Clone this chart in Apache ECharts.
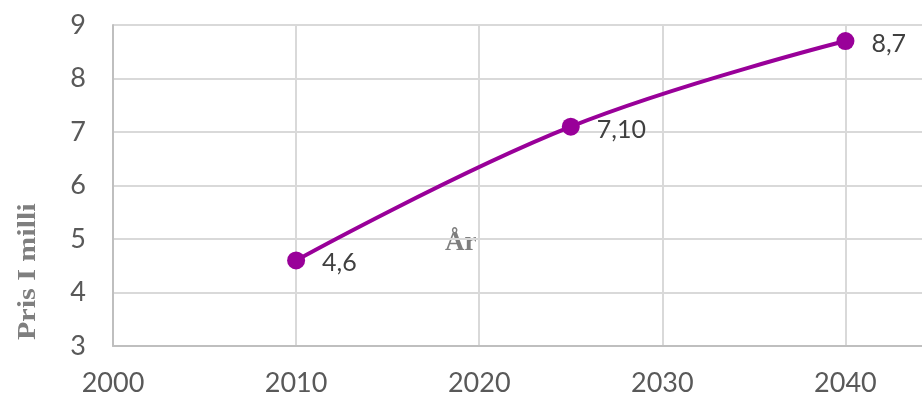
<!DOCTYPE html>
<html>
<head>
<meta charset="utf-8">
<script src="https://cdn.jsdelivr.net/npm/echarts@6/dist/echarts.min.js"></script>
<style>
  html, body { margin: 0; padding: 0; background: #ffffff; overflow: hidden; }
  #wrap { width: 922px; height: 399px; overflow: hidden; }
  #chart { width: 937px; height: 399px; }
</style>
</head>
<body>
<div id="wrap"><div id="chart"></div></div>
<script>
// Price development (years and price in billions)
const years = [2010, 2025, 2040];
const prices = [4.6, 7.10, 8.7];
const priceLabels = ['4,6', '7,10', '8,7'];
const xTicks = [2000, 2010, 2020, 2030, 2040];
const yTicks = [3, 4, 5, 6, 7, 8, 9];
const xTitle = 'År';
const yTitle = 'Pris I milli';

const tickFont = 'Lato, "Open Sans", sans-serif';
const titleFont = '"Liberation Serif", "Times New Roman", serif';
const chart = echarts.init(document.getElementById('chart'), null, { renderer: 'canvas' });

chart.setOption({
  animation: false,
  backgroundColor: '#ffffff',
  grid: { left: 113, right: 0, top: 25, bottom: 53, containLabel: false },
  xAxis: {
    type: 'value',
    min: xTicks[0],
    max: 2045,
    interval: 10,
    axisLine: { show: true, lineStyle: { color: '#bfbfbf', width: 2 } },
    axisTick: { show: false },
    splitLine: { show: true, lineStyle: { color: '#d9d9d9', width: 2 } },
    axisLabel: {
      color: '#595959',
      fontFamily: tickFont,
      fontSize: 27,
      margin: 24,
      showMaxLabel: false,
      formatter: v => (xTicks.indexOf(v) >= 0 ? String(v) : '')
    }
  },
  yAxis: {
    type: 'value',
    min: yTicks[0],
    max: yTicks[yTicks.length - 1],
    interval: 1,
    axisLine: { show: true, lineStyle: { color: '#bfbfbf', width: 2 } },
    axisTick: { show: false },
    splitLine: { show: true, lineStyle: { color: '#d9d9d9', width: 2 } },
    axisLabel: {
      color: '#595959',
      fontFamily: tickFont,
      fontSize: 27,
      margin: 27
    }
  },
  graphic: [
    {
      type: 'text',
      x: 445,
      y: 257,
      style: {
        text: xTitle,
        fill: '#7f7f7f',
        fontFamily: titleFont,
        fontWeight: 'bold',
        fontSize: 27,
        textVerticalAlign: 'bottom'
      }
    },
    {
      type: 'text',
      x: 16,
      y: 340,
      rotation: Math.PI / 2,
      scaleX: 1.2,
      style: {
        text: yTitle,
        fill: '#7f7f7f',
        fontFamily: titleFont,
        fontWeight: 'bold',
        fontSize: 25,
        textVerticalAlign: 'top'
      }
    }
  ],
  series: [
    {
      type: 'line',
      data: years.map((y, i) => [y, prices[i]]),
      smooth: 0.4,
      symbol: 'circle',
      symbolSize: 18,
      lineStyle: { color: '#990099', width: 4 },
      itemStyle: { color: '#990099' },
      label: {
        show: true,
        position: 'right',
        distance: 17,
        offset: [0, 3],
        color: '#404040',
        fontFamily: tickFont,
        fontSize: 25,
        formatter: p => priceLabels[p.dataIndex]
      }
    }
  ]
});
</script>
</body>
</html>
